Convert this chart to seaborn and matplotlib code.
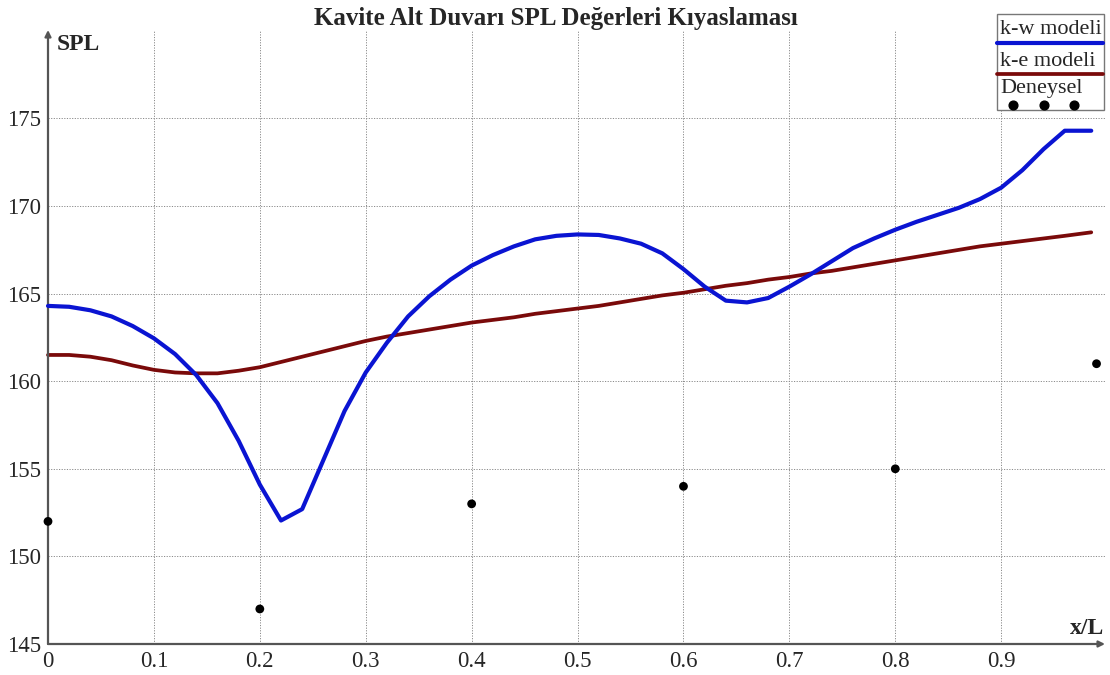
import matplotlib
matplotlib.use("Agg")
import matplotlib.pyplot as plt
from matplotlib.patches import Rectangle
from matplotlib.lines import Line2D
import seaborn as sns

# Positions along the cavity floor (x/L)
x_model = [0.00, 0.02, 0.04, 0.06, 0.08, 0.10, 0.12, 0.14, 0.16, 0.18,
           0.20, 0.22, 0.24, 0.26, 0.28, 0.30, 0.32, 0.34, 0.36, 0.38,
           0.40, 0.42, 0.44, 0.46, 0.48, 0.50, 0.52, 0.54, 0.56, 0.58,
           0.60, 0.62, 0.64, 0.66, 0.68, 0.70, 0.72, 0.74, 0.76, 0.78,
           0.80, 0.82, 0.84, 0.86, 0.88, 0.90, 0.92, 0.94, 0.96, 0.985]

# SPL, k-w turbulence model
spl_kw = [164.3, 164.25, 164.05, 163.7, 163.15, 162.45, 161.55, 160.35, 158.75, 156.6,
          154.1, 152.05, 152.7, 155.5, 158.3, 160.5, 162.2, 163.7, 164.85, 165.8,
          166.6, 167.2, 167.7, 168.1, 168.3, 168.38, 168.35, 168.15, 167.85, 167.3,
          166.4, 165.4, 164.6, 164.5, 164.75, 165.4, 166.1, 166.85, 167.6, 168.15,
          168.65, 169.1, 169.5, 169.9, 170.4, 171.05, 172.05, 173.25, 174.3, 174.3]

# SPL, k-e turbulence model
spl_ke = [161.5, 161.5, 161.4, 161.2, 160.9, 160.65, 160.5, 160.45, 160.45, 160.6,
          160.8, 161.1, 161.4, 161.7, 162.0, 162.3, 162.55, 162.75, 162.95, 163.15,
          163.35, 163.5, 163.65, 163.85, 164.0, 164.15, 164.3, 164.5, 164.7, 164.9,
          165.05, 165.25, 165.45, 165.6, 165.8, 165.95, 166.15, 166.3, 166.5, 166.7,
          166.9, 167.1, 167.3, 167.5, 167.7, 167.85, 168.0, 168.15, 168.3, 168.5]

# Measured values
x_exp = [0.0, 0.2, 0.4, 0.6, 0.8, 0.99]
spl_exp = [152, 147, 153, 154, 155, 161]

x_ticks = [0, 0.1, 0.2, 0.3, 0.4, 0.5, 0.6, 0.7, 0.8, 0.9]
x_tick_labels = ["0", "0.1", "0.2", "0.3", "0.4", "0.5", "0.6", "0.7", "0.8", "0.9"]
y_ticks = [145, 150, 155, 160, 165, 170, 175]

series_names = ["k-w modeli", "k-e modeli", "Deneysel"]
kw_color = "#0a14d2"
ke_color = "#7a0a0a"

sns.set_style("white")
plt.rcParams["font.family"] = ["Liberation Serif", "DejaVu Serif"]

W, H = 1110, 675
fig = plt.figure(figsize=(W / 100, H / 100), dpi=100)
ax = fig.add_axes([48 / W, 1 - 644 / H, 1057 / W, 614 / H])

sns.lineplot(x=x_model, y=spl_kw, color=kw_color, linewidth=3.0, ax=ax,
             legend=False, clip_on=False, zorder=4)
sns.lineplot(x=x_model, y=spl_ke, color=ke_color, linewidth=2.7, ax=ax,
             legend=False, clip_on=False, zorder=3)
sns.scatterplot(x=x_exp, y=spl_exp, color="black", s=40, ax=ax,
                legend=False, clip_on=False, zorder=5, edgecolor="none")

ax.set_xlim(0, 0.998)
ax.set_ylim(145, 180.05)
ax.set_xticks(x_ticks)
ax.set_xticklabels(x_tick_labels)
ax.set_yticks(y_ticks)
ax.tick_params(axis="both", labelsize=16.5, length=4, width=1, color="#555555",
               direction="out", pad=1)
ax.set_xlabel("")
ax.set_ylabel("")

ax.grid(True, color="#8a8a8a", linestyle=(0, (1.2, 1.5)), linewidth=0.7)
ax.set_axisbelow(True)

for side in ["top", "right", "left", "bottom"]:
    ax.spines[side].set_visible(False)

axis_color = "#555555"
ax.annotate("", xy=(0, 1.0), xytext=(0, 0), xycoords="axes fraction",
            arrowprops=dict(arrowstyle="-|>", lw=1.6, color=axis_color,
                            mutation_scale=9, shrinkA=0, shrinkB=0))
ax.annotate("", xy=(1.0, 0), xytext=(0, 0), xycoords="axes fraction",
            arrowprops=dict(arrowstyle="-|>", lw=1.6, color=axis_color,
                            mutation_scale=9, shrinkA=0, shrinkB=0))

fig.text(556 / W, 1 - 18 / H, "Kavite Alt Duvarı SPL Değerleri Kıyaslaması",
         ha="center", va="center", fontsize=18, fontweight="bold")
fig.text(57 / W, 1 - 44 / H, "SPL", ha="left", va="center",
         fontsize=17, fontweight="bold")
fig.text(1104 / W, 1 - 628 / H, "x/L", ha="right", va="center",
         fontsize=17, fontweight="bold")

# Legend box: label text sits above its line / marker sample
lx0, lx1, ly0, ly1 = 997, 1104, 14, 110
fig.patches.append(Rectangle((lx0 / W, 1 - ly1 / H), (lx1 - lx0) / W, (ly1 - ly0) / H,
                             transform=fig.transFigure, facecolor="white",
                             edgecolor="#777777", linewidth=1.0, zorder=10))
text_y = [30, 61, 89]
for name, ty in zip(series_names, text_y):
    fig.text((lx0 + 3) / W, 1 - ty / H, name, ha="left", va="center",
             fontsize=16, zorder=11)
fig.lines.append(Line2D([lx0 / W, (lx1 - 1) / W], [1 - 43 / H, 1 - 43 / H],
                        transform=fig.transFigure, color=kw_color, linewidth=3.0,
                        solid_capstyle="round", zorder=11))
fig.lines.append(Line2D([lx0 / W, (lx1 - 1) / W], [1 - 74 / H, 1 - 74 / H],
                        transform=fig.transFigure, color=ke_color, linewidth=2.7,
                        solid_capstyle="round", zorder=11))
fig.lines.append(Line2D([1013 / W, 1044 / W, 1074 / W], [1 - 105 / H] * 3,
                        transform=fig.transFigure, color="black", linestyle="none",
                        marker="o", markersize=6.3, zorder=11))

fig.savefig("out.png", dpi=100)
